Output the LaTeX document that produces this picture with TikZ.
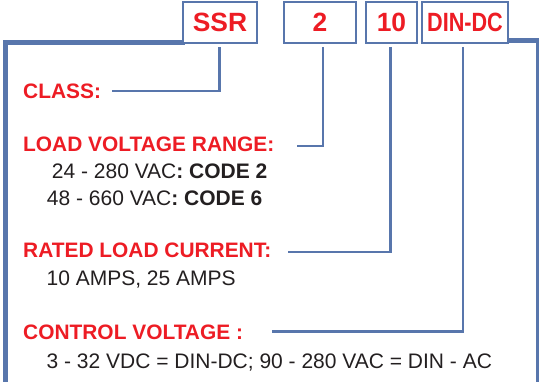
\documentclass[tikz,border=0pt]{standalone}
\usepackage{fontspec}
\setmainfont{Liberation Sans}
\definecolor{fr}{RGB}{88,118,172}
\definecolor{rd}{RGB}{237,28,36}
\definecolor{tx}{RGB}{35,31,32}
\begin{document}
\begin{tikzpicture}[x=1pt,y=-1pt,
 codebox/.style={draw=fr,line width=2.4pt,fill=white,minimum height=41pt,inner sep=0pt,text=rd,font=\fontsize{26.4}{26}\selectfont\bfseries},
 lbl/.style={anchor=base west,inner sep=0pt,text=rd,font=\fontsize{20.9}{20.9}\selectfont\bfseries},
 desc/.style={anchor=base west,inner sep=0pt,text=tx,font=\fontsize{21}{21}\selectfont},
 heavyline/.style={draw=fr,line width=5.5pt,line join=miter},
 conn/.style={draw=fr,line width=2.5pt,line join=miter}]
\useasboundingbox (0,0) rectangle (539,381);
% frame
\draw[heavyline] (5.3,390) -- (5.3,42.5) -- (185,42.5);
\draw[heavyline] (505,40.5) -- (538.5,40.5);
\draw[draw=fr,line width=3pt] (537,38) -- (537,390);
% code boxes
\node[codebox,minimum width=74pt] (ssr) at (220,22.2) {SSR};
\node[codebox,minimum width=72pt] (two) at (320,22.2) {2};
\node[codebox,minimum width=51pt] (ten) at (391.5,22.2) {10};
\node[codebox,minimum width=85.5pt] (din) at (465,22.2) {\scalebox{0.82}[1]{DIN-DC}};
% labels
\node[lbl] (class) at (23,98.3) {CLASS:};
\node[lbl] (load) at (23,151.7) {LOAD VOLTAGE RANGE:};
\node[desc] (l1) at (51.7,178.3) {24 - 280 VAC\textbf{: CODE 2}};
\node[desc] (l2) at (46.7,205) {48 - 660 VAC\textbf{: CODE 6}};
\node[lbl] (rated) at (23,257.5) {RATED LOAD CURRENT:};
\node[desc] (r1) at (46.4,285.8) {10 AMPS, 25 AMPS};
\node[lbl] (ctrl) at (23,339.8) {CONTROL VOLTAGE :};
\node[desc] (c1) at (46.4,368.3) {3 - 32 VDC = DIN-DC; 90 - 280 VAC = DIN - AC};
% connector ends
\coordinate (e1) at (112,91);
\coordinate (e2) at (296.7,146);
\coordinate (e3) at (288,252);
\coordinate (e4) at (271.6,331.5);
% connectors
\draw[conn] ([xshift=-0.5pt,yshift=-3.5pt]ssr.south) |- (e1);
\draw[conn] ([xshift=3pt,yshift=-3pt]two.south) |- (e2);
\draw[conn] ([xshift=-1pt,yshift=-3pt]ten.south) |- (e3);
\draw[conn] ([xshift=-2pt,yshift=-3pt]din.south) |- (e4);
\end{tikzpicture}
\end{document}
